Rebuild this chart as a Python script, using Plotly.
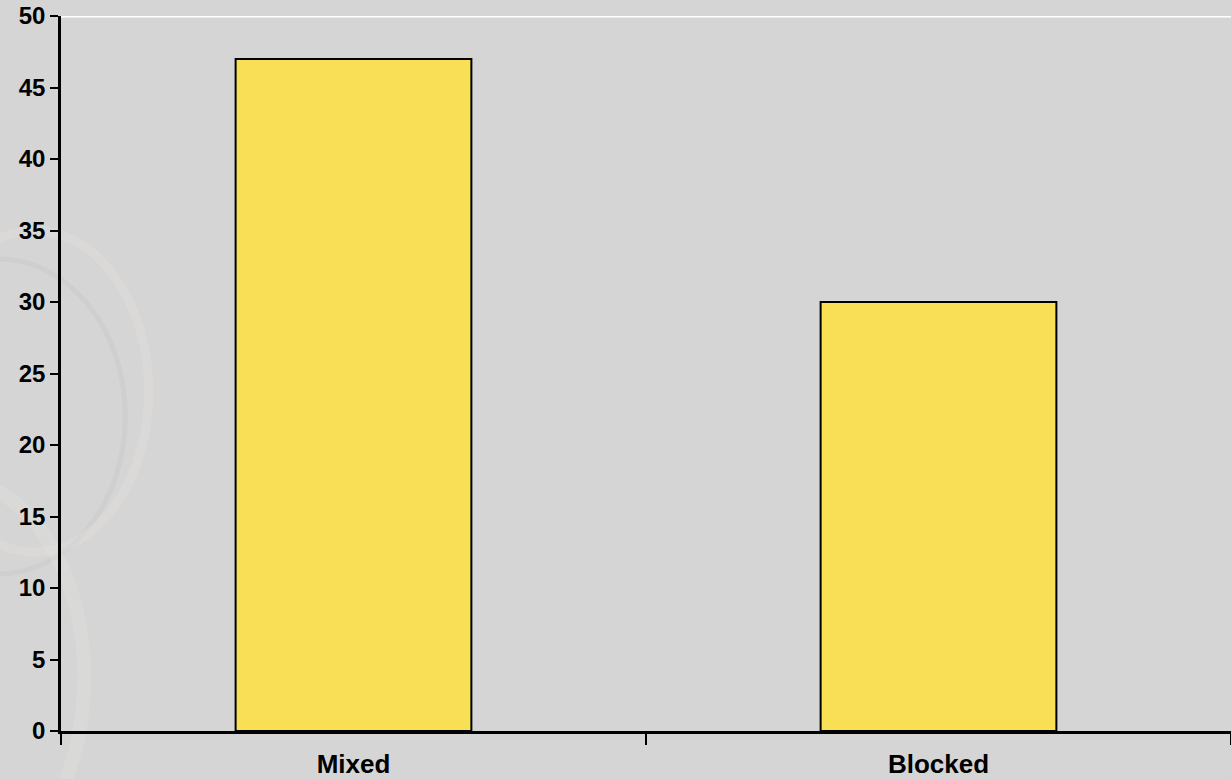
import plotly.graph_objects as go

categories = ["Mixed", "Blocked"]
values = [47, 30]
y_ticks = [0, 5, 10, 15, 20, 25, 30, 35, 40, 45, 50]

fig = go.Figure()
fig.add_trace(go.Bar(
    x=categories, y=values, width=0.403,
    marker=dict(color="#F9DF56", line=dict(color="#000000", width=2)),
    showlegend=False, hoverinfo="x+y",
))

# subtle decorative swirl on the left of the background
shapes = [
    dict(type="circle", xref="paper", yref="paper", x0=-0.16, x1=0.055, y0=0.22, y1=0.66,
         line=dict(color="rgba(195,195,195,0.3)", width=5), layer="below"),
    dict(type="circle", xref="paper", yref="paper", x0=-0.12, x1=0.075, y0=0.25, y1=0.70,
         line=dict(color="rgba(232,228,224,0.3)", width=9), layer="below"),
    dict(type="circle", xref="paper", yref="paper", x0=-0.20, x1=0.02, y0=-0.2, y1=0.35,
         line=dict(color="rgba(232,232,228,0.25)", width=14), layer="below"),
    dict(type="line", xref="paper", yref="y", x0=0.0, x1=1.0, y0=50, y1=50,
         line=dict(color="#FFFFFF", width=3)),
]

fig.update_layout(
    width=1231, height=779,
    margin=dict(l=61, r=0, t=16, b=48),
    paper_bgcolor="#D5D5D5",
    plot_bgcolor="rgba(0,0,0,0)",
    font=dict(family="Arial, Liberation Sans, sans-serif", color="#000000"),
    shapes=shapes,
)
fig.update_xaxes(
    type="category", range=[-0.5, 1.5],
    showline=True, linecolor="#000000", linewidth=2.5,
    ticks="outside", tickson="boundaries", ticklen=11, tickwidth=2, tickcolor="#000000",
    tickfont=dict(size=26, family="Arial, Liberation Sans, sans-serif"),
    tickprefix="<b>", ticksuffix="</b>",
    ticklabelstandoff=8,
    showgrid=False, zeroline=False,
)
fig.update_yaxes(
    range=[0, 50], tickvals=y_ticks,
    ticktext=[f"<b>{v}</b>" for v in y_ticks],
    showline=True, linecolor="#000000", linewidth=2.5,
    ticks="outside", ticklen=8, tickwidth=2, tickcolor="#000000",
    tickfont=dict(size=24, family="Arial, Liberation Sans, sans-serif"),
    showgrid=False, zeroline=False,
)

fig.write_html("out.html", config={"displayModeBar": False},
               post_script="document.body.style.margin='0';")
